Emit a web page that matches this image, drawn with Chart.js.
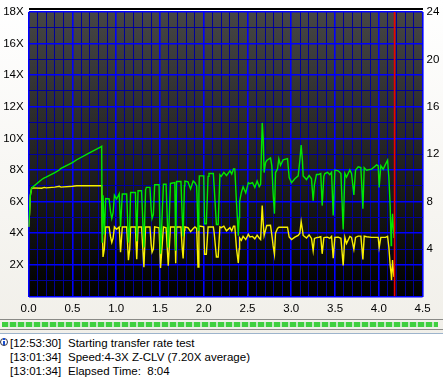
<!DOCTYPE html>
<html><head><meta charset="utf-8">
<script src="https://cdn.jsdelivr.net/npm/chart.js@4"></script>
<style>
html,body{margin:0;padding:0;width:443px;height:382px;overflow:hidden;background:linear-gradient(#ffffff,#efede6);font-family:"Liberation Sans",Arial,sans-serif}
#c{position:absolute;left:0;top:0}
#topbar{position:absolute;left:29px;top:8px;width:394px;height:2px;background:#000}
#sep1{position:absolute;left:0;top:319px;width:443px;height:1px;background:#8a8a86}
#bar{position:absolute;left:2px;top:322px;width:436px;height:5px;background:repeating-linear-gradient(90deg,#3fcf3f 0,#3fcf3f 6px,#bfe8bf 6px,#bfe8bf 8px)}
#sep2{position:absolute;left:0;top:329px;width:443px;height:1px;background:#8a8a86}
#log{position:absolute;left:0;top:333px;width:443px;height:49px;background:#fff;border-top:1px solid #9db4cc;box-sizing:border-box;font-size:11.5px;color:#000}
.row{position:absolute;white-space:pre;line-height:14px}
#icon{position:absolute;left:0;top:2px}
</style></head><body>
<canvas id="c" width="443" height="320"></canvas>
<div id="topbar"></div><div id="sep1"></div><div id="bar"></div><div id="sep2"></div>
<div id="log">
<svg id="icon" width="9" height="12" viewBox="0 0 9 12"><circle cx="4" cy="6" r="3.5" fill="#fff" stroke="#334" stroke-width="1"/><rect x="3" y="2" width="2" height="2" fill="#1a4fd0"/><rect x="3" y="5" width="2" height="4" fill="#1a4fd0"/></svg>
<div class="row" style="left:10px;top:2px">[12:53:30]</div><div class="row" style="left:68px;top:2px">Starting transfer rate test</div>
<div class="row" style="left:10px;top:16px">[13:01:34]</div><div class="row" style="left:68px;top:16px">Speed:4-3X Z-CLV (7.20X average)</div>
<div class="row" style="left:10px;top:30px">[13:01:34]</div><div class="row" style="left:68px;top:30px">Elapsed Time:  8:04</div>
</div>
<script>
const positions=[0,.01,.02,.035,.15,.18,.2,.3,.35,.37,.5,.55,.7,.82,.835,.84,.85,.865,.88,.92,.935,.95,.965,.98,1.005,1.035,1.05,1.07,1.12,1.13,1.14,1.155,1.165,1.22,1.235,1.25,1.29,1.317,1.336,1.345,1.386,1.40,1.41,1.425,1.44,1.49,1.507,1.54,1.57,1.595,1.62,1.67,1.68,1.69,1.74,1.755,1.765,1.78,1.785,1.82,1.85,1.88,1.9,1.92,1.935,1.945,1.95,2.0,2.01,2.03,2.05,2.06,2.11,2.12,2.145,2.165,2.185,2.2,2.23,2.26,2.3,2.32,2.34,2.355,2.375,2.395,2.405,2.41,2.43,2.45,2.48,2.51,2.527,2.557,2.584,2.61,2.634,2.65,2.668,2.679,2.69,2.706,2.72,2.763,2.778,2.793,2.808,2.82,2.843,2.858,2.877,2.907,2.957,2.976,3.003,3.041,3.079,3.098,3.113,3.128,3.136,3.174,3.204,3.231,3.25,3.265,3.288,3.315,3.337,3.353,3.372,3.384,3.414,3.44,3.46,3.479,3.498,3.536,3.567,3.593,3.612,3.631,3.669,3.688,3.715,3.734,3.764,3.795,3.818,3.833,3.86,3.917,3.974,3.993,4.004,4.023,4.05,4.077,4.1,4.115,4.13,4.141,4.145,4.157,4.172];
const greenSeries=[4.4,5.2,6.4,6.87,7.4,7.5,7.55,7.84,8,8.1,8.47,8.65,9.1,9.45,9.5,3.4,6.4,3.9,6.2,6.17,5.4,4.93,5.3,6.4,6.17,6.5,4.4,6.48,6.48,5,3.4,4.5,6.58,6.58,3.5,6.69,6.69,3.1,6.75,6.9,6.9,5.5,4.93,5.2,7.07,7.07,2.7,7.1,7.1,3.1,7.15,7.2,2.9,7.27,7.27,5,3.8,7,7.3,7.25,6.8,7.3,7.2,7,4.2,6.5,7.63,7.63,4.6,4.6,7.6,7.78,7.78,6.9,4.55,4.55,7.7,7.6,7.85,7.65,7.95,7.75,8.07,8.07,5.87,3.85,5,6,6.58,6.94,6.55,7.2,7.13,7.2,6.9,7.3,6.95,7.1,10.98,10.04,7.84,8.47,8.6,8.76,8.26,6.5,5.24,7.84,8.07,8.7,8.3,8.64,8.72,7.52,7.2,7.45,7.63,8.6,9.58,8.55,7.63,7.4,7.65,7.44,6.06,7.1,7.72,7.72,7.78,5.75,7.6,7.78,7.85,7.7,7.85,5.12,7.99,7.95,7.78,4.24,7.78,7.55,8,7.78,6.43,7.99,8.2,8.15,5.55,8.15,7.99,8.05,8.32,8.27,6.9,8.27,8.05,8.37,8.62,7.5,5.64,3.23,4,5.23,3.7];
const yellowSeries=[4.4,5.2,6.4,6.87,6.85,6.9,6.87,6.92,6.97,6.92,6.97,7,7,7,7,4.7,2.5,3,4.4,4.4,3.8,3.42,3.7,4.4,4.25,4.4,2.8,4.4,4.4,3.4,2.3,3,4.4,4.4,2.35,4.4,4.4,1.85,4.4,4.4,4.4,3.3,2.8,3,4.4,4.35,1.8,4.4,4.35,1.95,4.4,4.4,2.1,4.4,4.4,3,2.4,4.2,4.4,4.35,4.1,4.3,4.4,4.3,1.87,4.4,4.45,4.4,2.67,2.67,4.4,4.4,4.4,4,2.5,2.5,4.4,4.35,4.45,4.15,4.35,4.15,4.45,4.45,3,2.12,3,3.7,3.55,3.8,3.6,3.93,3.76,3.8,3.65,3.88,3.7,3.6,5.75,4.7,3.86,4.2,4.49,4.5,3.9,3.2,2.67,4,4.3,4.38,4.38,4.38,4.38,3.76,3.6,3.75,3.86,4,4.74,4.2,3.86,3.7,3.9,3.67,2.9,3.67,3.72,3.75,3.78,2.7,3.72,3.74,3.75,3.68,3.8,2.42,3.74,3.75,3.68,1.97,3.74,3.35,3.8,3.74,2.98,3.74,3.82,3.82,2.35,3.82,3.78,3.74,3.74,3.74,3.1,3.74,3.74,3.74,3.8,3.1,1.97,1.41,1.03,2.3,1.24];
const markerPosition=[4.18,4.18];
const markerValues=[0,18];

const pts=(xs,ys)=>xs.map((x,i)=>({x,y:ys[i]}));
const plotBackdrop={id:'plotBackdrop',beforeDraw(ch){const a=ch.chartArea,g=ch.ctx.createLinearGradient(0,a.top,0,a.bottom);g.addColorStop(0,'#464646');g.addColorStop(1,'#000000');ch.ctx.save();ch.ctx.fillStyle=g;ch.ctx.fillRect(a.left,a.top,a.right-a.left,a.bottom-a.top);ch.ctx.restore();}};
const font={family:'"Liberation Sans",Arial,sans-serif',size:11.5};
new Chart(document.getElementById('c'),{
 type:'scatter',
 data:{datasets:[
  {data:pts(markerPosition,markerValues),showLine:true,borderColor:'#ee0000',borderWidth:1.6,pointRadius:0,order:0},
  {data:pts(positions,greenSeries),showLine:true,borderColor:'#00e800',borderWidth:1.4,pointRadius:0,tension:0,order:1},
  {data:pts(positions,yellowSeries),showLine:true,borderColor:'#f8f000',borderWidth:1.4,pointRadius:0,tension:0,order:2}
 ]},
 options:{responsive:false,animation:false,layout:{padding:{top:10,left:0,right:0,bottom:0}},
  plugins:{legend:{display:false},tooltip:{enabled:false}},
  scales:{
   x:{type:'linear',min:0,max:4.5,
     afterFit(s){s.height=23.5;},
     grid:{drawTicks:false,color:c=>Math.round(c.tick.value*10)%5===0?'#0000ff':'#00009a',lineWidth:c=>Math.round(c.tick.value*10)%5===0?1.6:1},
     border:{display:false},
     ticks:{stepSize:.1,autoSkip:false,maxRotation:0,padding:5,color:'#000',font,callback:v=>Math.round(v*10)%5===0?v.toFixed(1):''}},
   y:{min:0,max:18,position:'left',
     afterFit(s){s.width=28.6;},
     grid:{drawTicks:false,color:c=>c.tick.value%2===0?'#0000ff':'#00009a',lineWidth:c=>c.tick.value%2===0?1.6:1},
     border:{display:false},
     ticks:{stepSize:1,autoSkip:false,padding:5,color:'#000',font,callback:v=>(v%2===0&&v>0)?v+'X':''}},
   y2:{min:0,max:24,position:'right',
     afterFit(s){s.width=20.4;},
     grid:{display:false,drawTicks:false},border:{display:false},
     ticks:{stepSize:4,padding:4,color:'#000',font,callback:v=>v>0?String(v):''}}
  }},
 plugins:[plotBackdrop]
});
</script>
</body></html>
